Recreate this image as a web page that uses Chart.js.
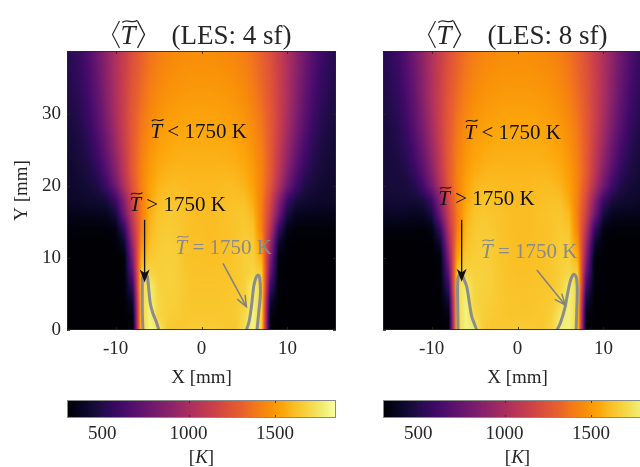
<!DOCTYPE html>
<html>
<head>
<meta charset="utf-8">
<script src="https://cdn.jsdelivr.net/npm/chart.js@4.4.1/dist/chart.umd.min.js"></script>
<style>
html, body { margin: 0; padding: 0; background: #fff; overflow: hidden; width: 640px; height: 467px; }
canvas { position: absolute; top: 0; }
#c1 { left: 0; }
#c2 { left: 316px; }
</style>
</head>
<body>
<canvas id="c1" width="350" height="467"></canvas>
<canvas id="c2" width="350" height="467"></canvas>
<script>
// grid nodes of the temperature field (mm)
const xNodes = [-16,-15,-14,-13,-12,-11,-10,-9,-8,-7,-6,-5,-4,-3,-2,-1,0,1,2,3,4,5,6,7,8,9,10,11,12,13,14,15,16];
const yNodes = [0,2,4,6,8,10,12,14,16,18,20,22,24,26,28,30,32,34,36,38];

const xTicks = [-10, 0, 10];
const yTicks = [0, 10, 20, 30];
const cbTicks = [500, 1000, 1500];
const cbRange = [296, 1854];

// mean temperature [K], one row per yNodes entry, columns per xNodes
const tempLES4 = [
  [300,300,300,300,300,300,300,300,300,1680,1800,1770,1655,1640,1645,1655,1660,1660,1655,1645,1645,1730,1800,1680,300,300,300,300,300,300,300,300,300],
  [300,300,300,300,300,300,300,300,320,1680,1800,1690,1665,1655,1645,1640,1640,1640,1640,1645,1650,1700,1800,1680,330,300,300,300,300,300,300,300,300],
  [300,300,300,300,300,300,300,300,420,1690,1790,1690,1670,1665,1645,1635,1635,1635,1635,1640,1645,1670,1790,1690,440,300,300,300,300,300,300,300,300],
  [300,300,300,300,300,300,300,305,560,1700,1780,1680,1675,1670,1645,1630,1630,1630,1630,1635,1645,1670,1780,1700,600,305,300,300,300,300,300,300,300],
  [300,300,300,300,300,300,300,310,720,1650,1690,1670,1675,1670,1640,1625,1625,1625,1625,1630,1640,1665,1690,1650,760,310,300,300,300,300,300,300,300],
  [300,300,300,300,300,300,300,310,850,1550,1650,1665,1670,1665,1635,1620,1620,1615,1620,1625,1640,1665,1675,1560,870,315,300,300,300,300,300,300,300],
  [300,300,300,300,300,300,305,400,950,1460,1620,1655,1665,1660,1630,1618,1618,1612,1618,1622,1635,1660,1655,1480,960,410,305,300,300,300,300,300,300],
  [310,310,310,310,310,310,330,560,1050,1400,1595,1645,1655,1650,1628,1615,1615,1610,1615,1620,1632,1650,1630,1420,1060,570,340,310,310,310,310,310,310],
  [350,350,355,360,360,370,450,760,1130,1395,1570,1630,1645,1640,1625,1615,1610,1610,1615,1625,1635,1640,1600,1405,1140,770,460,370,360,360,355,350,350],
  [400,405,410,420,430,460,580,870,1180,1400,1545,1607,1627,1627,1617,1607,1604,1604,1607,1617,1622,1617,1555,1410,1190,880,590,465,430,420,410,405,400],
  [410,420,430,450,490,600,780,1020,1250,1420,1530,1585,1605,1610,1605,1600,1600,1600,1605,1610,1605,1585,1530,1420,1250,1020,780,600,490,450,430,420,410],
  [420,430,450,480,550,680,860,1080,1280,1420,1510,1560,1580,1590,1590,1588,1588,1588,1590,1590,1580,1560,1510,1420,1280,1080,860,680,550,480,450,430,420],
  [430,440,460,510,600,740,910,1100,1280,1410,1490,1540,1560,1570,1575,1575,1575,1575,1575,1570,1560,1540,1490,1410,1280,1100,910,740,600,510,460,440,430],
  [440,450,480,540,640,780,950,1120,1280,1400,1475,1520,1545,1555,1560,1562,1562,1562,1560,1555,1545,1520,1475,1400,1280,1120,950,780,640,540,480,450,440],
  [450,465,500,570,680,820,980,1135,1275,1385,1455,1500,1525,1538,1545,1548,1548,1548,1545,1538,1525,1500,1455,1385,1275,1135,980,820,680,570,500,465,450],
  [460,480,520,600,710,850,1000,1145,1270,1370,1435,1480,1505,1518,1527,1530,1530,1530,1527,1518,1505,1480,1435,1370,1270,1145,1000,850,710,600,520,480,460],
  [470,495,540,620,730,870,1010,1145,1260,1350,1415,1460,1485,1500,1508,1512,1512,1512,1508,1500,1485,1460,1415,1350,1260,1145,1010,870,730,620,540,495,470],
  [480,510,560,640,750,880,1015,1140,1250,1335,1400,1442,1468,1482,1490,1495,1495,1495,1490,1482,1468,1442,1400,1335,1250,1140,1015,880,750,640,560,510,480],
  [490,520,575,655,765,890,1020,1135,1240,1320,1382,1425,1450,1465,1475,1480,1480,1480,1475,1465,1450,1425,1382,1320,1240,1135,1020,890,765,655,575,520,490],
  [500,530,590,670,780,900,1020,1130,1230,1310,1370,1410,1435,1450,1460,1465,1465,1465,1460,1450,1435,1410,1370,1310,1230,1130,1020,900,780,670,590,530,500]
];

const tempLES8 = [
  [300,300,300,300,300,300,300,300,300,1690,1800,1785,1665,1640,1640,1650,1655,1655,1650,1645,1690,1790,1800,1690,300,300,300,300,300,300,300,300,300],
  [300,300,300,300,300,300,300,300,330,1690,1800,1710,1665,1650,1640,1635,1635,1635,1640,1645,1670,1760,1790,1690,330,300,300,300,300,300,300,300,300],
  [300,300,300,300,300,300,300,300,430,1700,1790,1690,1665,1660,1645,1635,1630,1630,1635,1640,1650,1705,1785,1700,440,300,300,300,300,300,300,300,300],
  [300,300,300,300,300,300,300,305,580,1710,1775,1690,1675,1665,1640,1630,1625,1625,1630,1635,1645,1680,1775,1710,590,305,300,300,300,300,300,300,300],
  [300,300,300,300,300,300,300,310,730,1655,1690,1675,1675,1665,1640,1625,1620,1620,1625,1630,1640,1670,1695,1655,750,310,300,300,300,300,300,300,300],
  [300,300,300,300,300,300,300,310,860,1555,1650,1665,1670,1660,1635,1620,1615,1615,1620,1625,1640,1665,1675,1565,870,315,300,300,300,300,300,300,300],
  [300,300,300,300,300,300,305,410,960,1465,1620,1655,1665,1655,1630,1618,1612,1612,1618,1622,1635,1660,1655,1480,960,410,305,300,300,300,300,300,300],
  [320,320,320,320,315,312,335,570,1055,1405,1595,1645,1655,1647,1628,1615,1612,1610,1615,1620,1632,1650,1630,1420,1060,570,340,310,310,310,310,310,310],
  [380,385,390,385,375,380,460,770,1135,1400,1570,1630,1645,1637,1625,1615,1610,1610,1615,1625,1635,1640,1600,1405,1140,770,460,370,360,360,355,350,350],
  [430,440,445,440,440,470,590,875,1185,1405,1545,1607,1627,1624,1617,1607,1604,1604,1607,1617,1622,1617,1555,1410,1190,880,590,465,430,420,410,405,400],
  [440,450,455,460,500,610,790,1025,1255,1420,1530,1585,1605,1608,1605,1600,1600,1600,1605,1610,1605,1585,1530,1420,1250,1020,780,600,490,450,430,420,410],
  [445,455,465,490,560,690,865,1085,1280,1420,1510,1560,1580,1590,1590,1588,1588,1588,1590,1590,1580,1560,1510,1420,1280,1080,860,680,550,480,450,430,420],
  [450,460,475,520,610,745,915,1100,1280,1410,1490,1540,1560,1570,1575,1575,1575,1575,1575,1570,1560,1540,1490,1410,1280,1100,910,740,600,510,460,440,430],
  [455,465,490,545,645,785,950,1120,1280,1400,1475,1520,1545,1555,1560,1562,1562,1562,1560,1555,1545,1520,1475,1400,1280,1120,950,780,640,540,480,450,440],
  [460,470,505,575,685,820,980,1135,1275,1385,1455,1500,1525,1538,1545,1548,1548,1548,1545,1538,1525,1500,1455,1385,1275,1135,980,820,680,570,500,465,450],
  [465,485,525,605,710,850,1000,1145,1270,1370,1435,1480,1505,1518,1527,1530,1530,1530,1527,1518,1505,1480,1435,1370,1270,1145,1000,850,710,600,520,480,460],
  [470,495,540,620,730,870,1010,1145,1260,1350,1415,1460,1485,1500,1508,1512,1512,1512,1508,1500,1485,1460,1415,1350,1260,1145,1010,870,730,620,540,495,470],
  [480,510,560,640,750,880,1015,1140,1250,1335,1400,1442,1468,1482,1490,1495,1495,1495,1490,1482,1468,1442,1400,1335,1250,1140,1015,880,750,640,560,510,480],
  [490,520,575,655,765,890,1020,1135,1240,1320,1382,1425,1450,1465,1475,1480,1480,1480,1475,1465,1450,1425,1382,1320,1240,1135,1020,890,765,655,575,520,490],
  [500,530,590,670,780,900,1020,1130,1230,1310,1370,1410,1435,1450,1460,1465,1465,1465,1460,1450,1435,1410,1370,1310,1230,1130,1020,900,780,670,590,530,500]
];

// T = 1750 K contour lobes, [x, y] in mm
const lobeLeftLES4 = [[-6.82,0],[-6.89,2.8],[-6.89,6.5],[-6.86,7.36],[-6.63,7.78],[-6.33,7.5],[-6.24,6.94],[-5.96,3.71],[-5.66,2.32],[-5.26,1.15],[-4.96,0]];
const lobeRightLES4 = [[5.22,0],[5.53,1.15],[5.81,3.24],[6.07,6.01],[6.31,7.18],[6.58,7.64],[6.77,7.29],[6.86,5.1],[6.69,2.78],[6.46,0]];
const lobeLeftLES8 = [[-6.91,0],[-6.95,3],[-6.97,6],[-6.9,7.3],[-6.68,7.75],[-6.4,7.5],[-6.15,6.8],[-5.9,6.0],[-5.6,3.8],[-5.32,1.85],[-5.0,0.8],[-4.74,0]];
const lobeRightLES8 = [[4.6,0],[5.0,1.0],[5.5,3.0],[5.9,5.5],[6.2,7.0],[6.55,7.75],[6.85,7.3],[6.95,5.5],[6.9,3],[6.83,0]];

// annotation arrows [x0, y0, x1, y1] and labels [relation, x, y]
const arrowsLES4 = [[-6.62,15.3,-6.62,6.6],[2.5,9.26,5.22,3.24]];
const arrowsLES8 = [[-6.5,15.3,-6.5,6.7],[2.25,8.33,5.55,3.47]];
const notesLES4 = [['<',-0.33,27.6],['>',-2.78,17.4],['=',2.58,11.4]];
const notesLES8 = [['<',-0.56,27.5],['>',-3.6,18.2],['=',1.36,10.9]];

const SERIF = '"Liberation Serif", "Times New Roman", serif';
const INK = '#262626';
Chart.defaults.font.family = SERIF;
Chart.defaults.color = INK;

const INFERNO = [
  [0,0,4],[7,5,32],[22,11,57],[43,11,87],[66,10,104],[87,16,110],[106,23,110],[127,30,108],
  [147,38,103],[168,46,95],[188,55,84],[204,66,72],[221,81,58],[232,96,45],[243,120,25],
  [249,142,9],[252,165,10],[250,193,39],[246,215,70],[241,237,113],[252,255,164]
];

function inferno(T) {
  let t = (T - cbRange[0]) / (cbRange[1] - cbRange[0]);
  t = Math.max(0, Math.min(1, t)) * (INFERNO.length - 1);
  const i = Math.min(INFERNO.length - 2, Math.floor(t));
  const u = t - i, a = INFERNO[i], b = INFERNO[i + 1];
  return [a[0] + (b[0] - a[0]) * u, a[1] + (b[1] - a[1]) * u, a[2] + (b[2] - a[2]) * u];
}

function locate(nodes, v) {
  const n = nodes.length;
  if (v <= nodes[0]) return [0, 0];
  if (v >= nodes[n - 1]) return [n - 2, 1];
  let i = 0;
  while (nodes[i + 1] < v) i++;
  return [i, (v - nodes[i]) / (nodes[i + 1] - nodes[i])];
}

// shaded field, bilinear in T, coloured through the colormap
function fieldPlugin(field) {
  return {
    id: 'field',
    beforeDatasetsDraw(chart) {
      const { ctx, chartArea: a, scales: { x, y } } = chart;
      const w = Math.round(a.right - a.left), h = Math.round(a.bottom - a.top);
      const off = document.createElement('canvas');
      off.width = w; off.height = h;
      const octx = off.getContext('2d');
      const img = octx.createImageData(w, h);
      const cols = [], rows = [];
      for (let i = 0; i < w; i++) cols.push(locate(xNodes, x.getValueForPixel(a.left + i + 0.5)));
      for (let j = 0; j < h; j++) rows.push(locate(yNodes, y.getValueForPixel(a.top + j + 0.5)));
      for (let j = 0; j < h; j++) {
        const [r, v] = rows[j];
        const lo = field[r], hi = field[r + 1];
        for (let i = 0; i < w; i++) {
          const [c, u] = cols[i];
          const t0 = lo[c] + (lo[c + 1] - lo[c]) * u;
          const t1 = hi[c] + (hi[c + 1] - hi[c]) * u;
          const col = inferno(t0 + (t1 - t0) * v);
          const k = (j * w + i) * 4;
          img.data[k] = col[0]; img.data[k + 1] = col[1]; img.data[k + 2] = col[2]; img.data[k + 3] = 255;
        }
      }
      octx.putImageData(img, 0, 0);
      ctx.drawImage(off, a.left, a.top);
    }
  };
}

function drawTildeT(ctx, x, base, size, color) {
  ctx.font = `italic ${size}px ${SERIF}`;
  ctx.fillStyle = color;
  ctx.textAlign = 'left';
  ctx.textBaseline = 'alphabetic';
  ctx.fillText('T', x, base);
  const w = ctx.measureText('T').width;
  const ty = base - size * 0.84, x0 = x + w * 0.12, x1 = x + w * 1.12, amp = size * 0.07;
  ctx.strokeStyle = color;
  ctx.lineWidth = Math.max(1, size * 0.05);
  ctx.beginPath();
  ctx.moveTo(x0, ty + amp * 0.6);
  ctx.bezierCurveTo(x0 + (x1 - x0) * 0.35, ty - amp * 1.8, x0 + (x1 - x0) * 0.65, ty + amp * 1.8, x1, ty - amp * 0.6);
  ctx.stroke();
  return w;
}

function arrow(ctx, x0, y0, x1, y1, color, filled) {
  const ang = Math.atan2(y1 - y0, x1 - x0), c = Math.cos(ang), s = Math.sin(ang);
  const L = filled ? 13 : 11, H = filled ? 5 : 4.5;
  ctx.strokeStyle = color; ctx.fillStyle = color;
  ctx.lineWidth = filled ? 1.3 : 1.5;
  ctx.beginPath();
  ctx.moveTo(x0, y0);
  ctx.lineTo(x1 - c * (filled ? L * 0.6 : 0), y1 - s * (filled ? L * 0.6 : 0));
  ctx.stroke();
  const bx = x1 - c * L, by = y1 - s * L, px = -s * H, py = c * H;
  ctx.beginPath();
  if (filled) {
    ctx.moveTo(x1, y1);
    ctx.lineTo(bx + px, by + py);
    ctx.lineTo(x1 - c * L * 0.72, y1 - s * L * 0.72);
    ctx.lineTo(bx - px, by - py);
    ctx.closePath();
    ctx.fill();
  } else {
    ctx.moveTo(bx + px, by + py);
    ctx.lineTo(x1, y1);
    ctx.lineTo(bx - px, by - py);
    ctx.stroke();
  }
}

function decorPlugin(titleText, arrows, notes) {
  return {
    id: 'decor',
    afterDatasetsDraw(chart) {
      const { ctx, chartArea: a, scales: { x, y } } = chart;
      ctx.save();
      // axes box and inward ticks
      ctx.strokeStyle = 'rgba(38,38,38,0.85)';
      ctx.lineWidth = 1;
      ctx.strokeRect(a.left + 0.5, a.top + 0.5, a.right - a.left - 1, a.bottom - a.top - 1);
      ctx.beginPath();
      xTicks.forEach(v => {
        const px = Math.round(x.getPixelForValue(v)) + 0.5;
        ctx.moveTo(px, a.bottom); ctx.lineTo(px, a.bottom - 3);
        ctx.moveTo(px, a.top); ctx.lineTo(px, a.top + 3);
      });
      yTicks.forEach(v => {
        const py = Math.round(y.getPixelForValue(v)) + 0.5;
        ctx.moveTo(a.left, py); ctx.lineTo(a.left + 3, py);
        ctx.moveTo(a.right, py); ctx.lineTo(a.right - 3, py);
      });
      ctx.stroke();

      // arrows
      arrows.forEach((r, i) => {
        arrow(ctx, x.getPixelForValue(r[0]), y.getPixelForValue(r[1]),
          x.getPixelForValue(r[2]), y.getPixelForValue(r[3]), i === 0 ? '#111' : '#808080', i === 0);
      });

      // labels
      const size = 21;
      notes.forEach(([rel, nx, ny]) => {
        const color = rel === '=' ? '#8a8a8a' : '#111';
        const rest = ' ' + rel + ' 1750 K';
        ctx.font = `italic ${size}px ${SERIF}`;
        const wT = ctx.measureText('T').width;
        ctx.font = `${size}px ${SERIF}`;
        const wR = ctx.measureText(rest).width;
        const cx = x.getPixelForValue(nx), base = y.getPixelForValue(ny) + 6.5;
        const x0 = cx - (wT + wR) / 2;
        drawTildeT(ctx, x0, base, size, color);
        ctx.font = `${size}px ${SERIF}`;
        ctx.fillStyle = color;
        ctx.fillText(rest, x0 + wT, base);
      });
      ctx.restore();
    },
    afterDraw(chart) {
      const { ctx, chartArea: a, scales: { cb } } = chart;
      ctx.save();
      // colorbar
      const top = cb.top + 1, h = 16;
      for (let px = Math.round(cb.left); px < Math.round(cb.right); px++) {
        const c = inferno(cb.getValueForPixel(px + 0.5));
        ctx.fillStyle = `rgb(${c[0] | 0},${c[1] | 0},${c[2] | 0})`;
        ctx.fillRect(px, top, 1, h);
      }
      ctx.strokeStyle = '#8a8a8a';
      ctx.lineWidth = 1;
      ctx.strokeRect(Math.round(cb.left) + 0.5, top - 0.5, Math.round(cb.right - cb.left) - 1, h + 1);
      ctx.strokeStyle = 'rgba(38,38,38,0.8)';
      ctx.beginPath();
      cbTicks.forEach(v => {
        const px = Math.round(cb.getPixelForValue(v)) + 0.5;
        ctx.moveTo(px, top); ctx.lineTo(px, top + 2);
        ctx.moveTo(px, top + h); ctx.lineTo(px, top + h - 2);
      });
      ctx.stroke();

      // colorbar unit [K]
      const cx = (cb.left + cb.right) / 2, base = 463;
      ctx.fillStyle = INK;
      ctx.textBaseline = 'alphabetic';
      ctx.font = `19px ${SERIF}`;
      const wb = ctx.measureText('[').width;
      ctx.font = `italic 19px ${SERIF}`;
      const wk = ctx.measureText('K').width;
      const sx = cx - (2 * wb + wk) / 2;
      ctx.font = `19px ${SERIF}`;
      ctx.textAlign = 'left';
      ctx.fillText('[', sx, base);
      ctx.font = `italic 19px ${SERIF}`;
      ctx.fillText('K', sx + wb, base);
      ctx.font = `19px ${SERIF}`;
      ctx.fillText(']', sx + wb + wk, base);

      // title  < T~ > (LES: n sf)
      const tc = (a.left + a.right) / 2, tb = 44, tsize = 27;
      ctx.strokeStyle = INK;
      ctx.lineWidth = 1.1;
      const bl = tc - 89;
      ctx.beginPath();
      ctx.moveTo(bl + 7, 21); ctx.lineTo(bl, 34.5); ctx.lineTo(bl + 7, 48);
      ctx.stroke();
      const wT = drawTildeT(ctx, bl + 8, tb, tsize, INK);
      const br = bl + 8 + wT + 2;
      ctx.beginPath();
      ctx.moveTo(br, 21); ctx.lineTo(br + 7, 34.5); ctx.lineTo(br, 48);
      ctx.stroke();
      ctx.font = `${tsize}px ${SERIF}`;
      ctx.fillStyle = INK;
      ctx.textAlign = 'right';
      ctx.fillText(titleText, tc + 90, tb);
      ctx.restore();
    }
  };
}

function lobeSet(points) {
  return {
    data: points.map(p => ({ x: p[0], y: p[1] })),
    showLine: true,
    borderColor: '#8c8c8c',
    borderWidth: 3,
    pointRadius: 0,
    tension: 0.3,
    fill: false
  };
}

function makePanel(id, titleText, field, lobes, arrows, notes, showY) {
  const tickFont = { family: SERIF, size: 19, lineHeight: 1.2 };
  return new Chart(document.getElementById(id), {
    type: 'scatter',
    data: { datasets: lobes.map(lobeSet) },
    options: {
      responsive: false,
      animation: false,
      events: [],
      layout: { padding: { top: 51, right: 14, left: 0, bottom: 0 } },
      plugins: { legend: { display: false }, tooltip: { enabled: false } },
      scales: {
        x: {
          type: 'linear', position: 'bottom', weight: 0,
          min: -15.65, max: 15.65,
          afterBuildTicks: s => { s.ticks = xTicks.map(v => ({ value: v })); },
          afterFit: s => { s.height = 70; },
          grid: { display: false, drawTicks: false },
          border: { display: false },
          ticks: { padding: 7.6, font: tickFont, color: INK, callback: v => String(v) },
          title: { display: true, text: 'X [mm]', font: tickFont, color: INK, padding: { top: 0, bottom: 10.6 } }
        },
        cb: {
          type: 'linear', position: 'bottom', axis: 'x', weight: 1,
          min: cbRange[0], max: cbRange[1],
          afterBuildTicks: s => { s.ticks = cbTicks.map(v => ({ value: v })); },
          afterFit: s => { s.height = 67; },
          grid: { display: false, drawTicks: false },
          border: { display: false },
          ticks: { padding: 22.6, font: tickFont, color: INK, callback: v => String(v) }
        },
        y: {
          type: 'linear', position: 'left',
          min: 0, max: 38.75,
          afterBuildTicks: s => { s.ticks = yTicks.map(v => ({ value: v })); },
          afterFit: s => { s.width = 67; },
          grid: { display: false, drawTicks: false },
          border: { display: false },
          ticks: { display: showY, padding: 6, font: tickFont, color: INK, callback: v => String(v) },
          title: { display: showY, text: 'Y [mm]', font: tickFont, color: INK, padding: { top: 10.6, bottom: 0 } }
        }
      }
    },
    plugins: [fieldPlugin(field), decorPlugin(titleText, arrows, notes)]
  });
}

makePanel('c1', '(LES: 4 sf)', tempLES4, [lobeLeftLES4, lobeRightLES4], arrowsLES4, notesLES4, true);
makePanel('c2', '(LES: 8 sf)', tempLES8, [lobeLeftLES8, lobeRightLES8], arrowsLES8, notesLES8, false);
</script>
</body>
</html>
